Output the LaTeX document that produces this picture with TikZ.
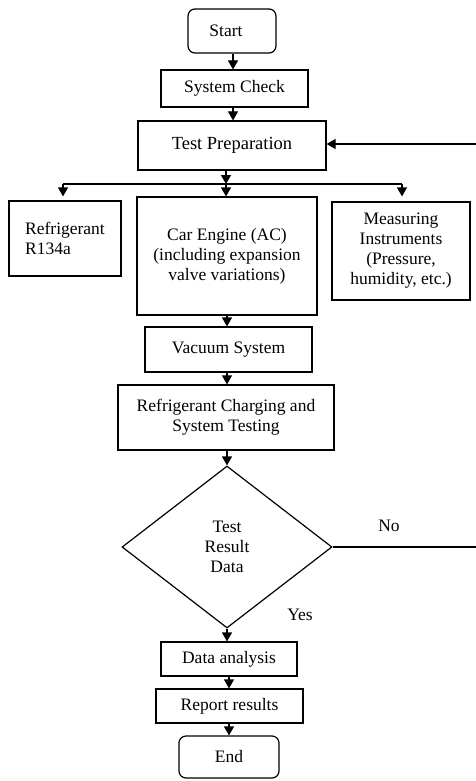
\documentclass[tikz,border=0pt]{standalone}
\usepackage{fontspec}
\setmainfont{Liberation Serif}
\usetikzlibrary{shapes.geometric,arrows.meta}
\begin{document}
\begin{tikzpicture}[x=1pt,y=-1pt,
  line width=1.2pt,
  txt/.style={font=\fontsize{17.5}{20}\selectfont, align=center},
  box/.style={draw, rectangle, inner sep=2pt, txt},
  term/.style={box, rounded corners=7pt},
  arr/.style={-{Triangle[width=10pt,length=9pt]}},
  lbl/.style={txt, inner sep=0pt}
]
\useasboundingbox (0,0) rectangle (476,781);

\node[term, minimum width=88pt, minimum height=44pt] (start) at (232,31) {Start\hspace{12pt}};
\node[box, minimum width=147pt, minimum height=37pt] (sys) at (234.5,88.5) {System Check};
\node[box, minimum width=188pt, minimum height=49pt, font=\fontsize{18.5}{21}\selectfont] (prep) at (232,145.5) {Test Preparation};
\node[box, minimum width=112pt, minimum height=75pt, align=left] (ref) at (65,238.5) {Refrigerant\\R134a};
\node[box, minimum width=180pt, minimum height=118pt] (car) at (227,256) {Car Engine (AC)\\(including expansion\\valve variations)};
\node[box, minimum width=138pt, minimum height=98pt] (meas) at (401,251) {Measuring\\Instruments\\(Pressure,\\humidity, etc.)};
\node[box, minimum width=167pt, minimum height=45pt] (vac) at (228.5,349.5) {Vacuum System};
\node[box, minimum width=216pt, minimum height=65pt] (chg) at (226,417.5) {Refrigerant Charging and\\System Testing};
\node[draw, diamond, txt, inner sep=0pt, minimum width=210pt, minimum height=162pt] (dia) at (227,547) {Test\\Result\\Data};
\node[box, minimum width=136pt, minimum height=34pt] (data) at (229,659) {Data analysis};
\node[box, minimum width=147pt, minimum height=34pt] (rep) at (229.5,706) {Report results};
\node[term, minimum width=100pt, minimum height=42pt] (end) at (229,757) {End};

\node[lbl] (no) at (389,526) {No};
\node[lbl] (yes) at (300,615) {Yes};

% main flow
\draw[arr] (start.south -| 233,0) -- (233,0 |- sys.north);
\draw[arr] (sys.south -| 233,0) -- (233,0 |- prep.north);
\coordinate (bar) at (226,184);
\coordinate (barL) at (63,184);
\coordinate (barR) at (402,184);
\draw[arr] (prep.south -| bar) -- (bar);
\draw (barL) -- (barR);
\draw[arr, shorten >=4pt] (barL) -- (barL |- ref.north);
\draw[arr] (bar) -- (bar |- car.north);
\draw[arr, shorten >=5pt] (barR) -- (barR |- meas.north);
\draw[arr] (car.south -| 227,0) -- (227,0 |- vac.north);
\draw[arr] (vac.south -| 227,0) -- (227,0 |- chg.north);
\draw[arr] (chg.south -| dia.north) -- (dia.north);
\draw[arr] (dia.south) -- (dia.south |- data.north);
\draw[arr] (data.south -| 229,0) -- (229,0 |- rep.north);
\draw[arr] (rep.south -| 229,0) -- (229,0 |- end.north);

% loop back (No)
\coordinate (loopA) at (480,547);
\coordinate (loopB) at (480,144);
\draw[arr] (dia.east) -- (loopA) -- (loopB) -- (prep.east |- loopB);
\end{tikzpicture}
\end{document}
